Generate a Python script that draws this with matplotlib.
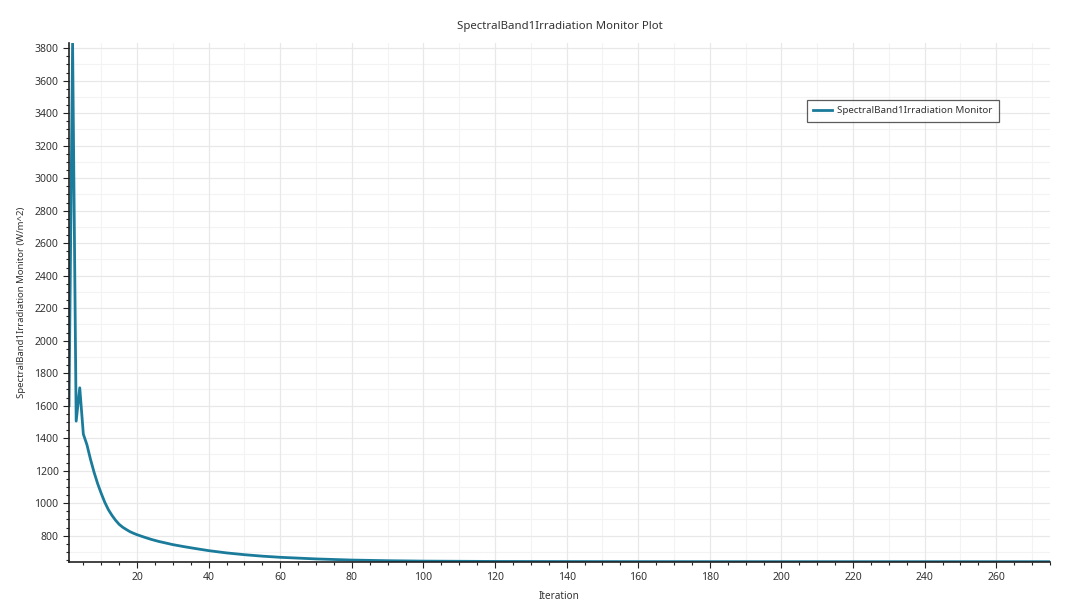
"""
SpectralBand1Irradiation monitor plot (residual-style history)
"""

import matplotlib
matplotlib.use("Agg")
import matplotlib.pyplot as plt
from matplotlib.ticker import MultipleLocator

plt.rcParams['font.family'] = ['Noto Sans', 'DejaVu Sans']

# values
iterations = [1, 2, 3, 4, 5, 6, 7, 8, 9, 10, 11, 12, 13, 14, 15, 16, 17, 18, 19, 20,
              22, 24, 26, 28, 30, 33, 36, 40, 45, 50, 55, 60, 70, 80, 90, 100,
              120, 140, 160, 180, 200, 220, 240, 260, 275]
irradiation = [1600, 3830, 1505, 1710, 1425, 1360, 1270, 1190, 1120, 1060, 1005, 960,
               925, 895, 870, 852, 838, 825, 815, 806,
               791, 777, 765, 755, 745, 733, 722, 708, 694, 683, 674, 667, 657, 650,
               646, 643.5, 641.5, 640.8, 640.4, 640.2, 640.1, 640.0, 640.0, 640.0, 640.0]

series_label = 'SpectralBand1Irradiation Monitor'
title = 'SpectralBand1Irradiation Monitor Plot'
x_label = 'Iteration'
y_label = 'SpectralBand1Irradiation Monitor (W/m^2)'

line_color = '#1b7b9b'
text_color = '#333333'

fig = plt.figure(figsize=(10.8, 6.14), dpi=100)
ax = fig.add_axes([0.0639, 0.0852, 0.9083, 0.8443])

ax.plot(iterations, irradiation, color=line_color, linewidth=2.0, label=series_label)

ax.set_xlim(1, 275)
ax.set_ylim(min(irradiation), max(irradiation))

# ticks and grid
ax.xaxis.set_major_locator(MultipleLocator(20))
ax.xaxis.set_minor_locator(MultipleLocator(5))
ax.yaxis.set_major_locator(MultipleLocator(200))
ax.yaxis.set_minor_locator(MultipleLocator(50))
ax.tick_params(which='major', direction='out', length=4, width=0.8,
               labelsize=7.5, labelcolor=text_color, color='#222222')
ax.tick_params(which='minor', direction='out', length=2.5, width=0.8, color='#222222')

ax.grid(which='major', color='#e8e8e8', linewidth=0.9)
for v in range(10, 280, 20):
    ax.axvline(v, color='#f3f3f3', linewidth=0.8, zorder=0)
for v in range(700, 3900, 200):
    ax.axhline(v, color='#f3f3f3', linewidth=0.8, zorder=0)
ax.set_axisbelow(True)

for side in ('top', 'right'):
    ax.spines[side].set_visible(False)
for side in ('left', 'bottom'):
    ax.spines[side].set_color('#222222')
    ax.spines[side].set_linewidth(1.2)

ax.set_title(title, fontsize=8.2, color=text_color, pad=10)
ax.set_xlabel(x_label, fontsize=7.2, color=text_color, labelpad=6)
ax.set_ylabel(y_label, fontsize=6.9, color=text_color, labelpad=6)

leg = ax.legend(loc='upper left', bbox_to_anchor=(0.747, 0.90), fontsize=7,
                frameon=True, fancybox=False, handlelength=2.0, borderpad=0.65,
                handletextpad=0.5)
leg.get_frame().set_edgecolor('#333333')
leg.get_frame().set_linewidth(0.9)
for t in leg.get_texts():
    t.set_color(text_color)

fig.savefig('out.png', dpi=100)
